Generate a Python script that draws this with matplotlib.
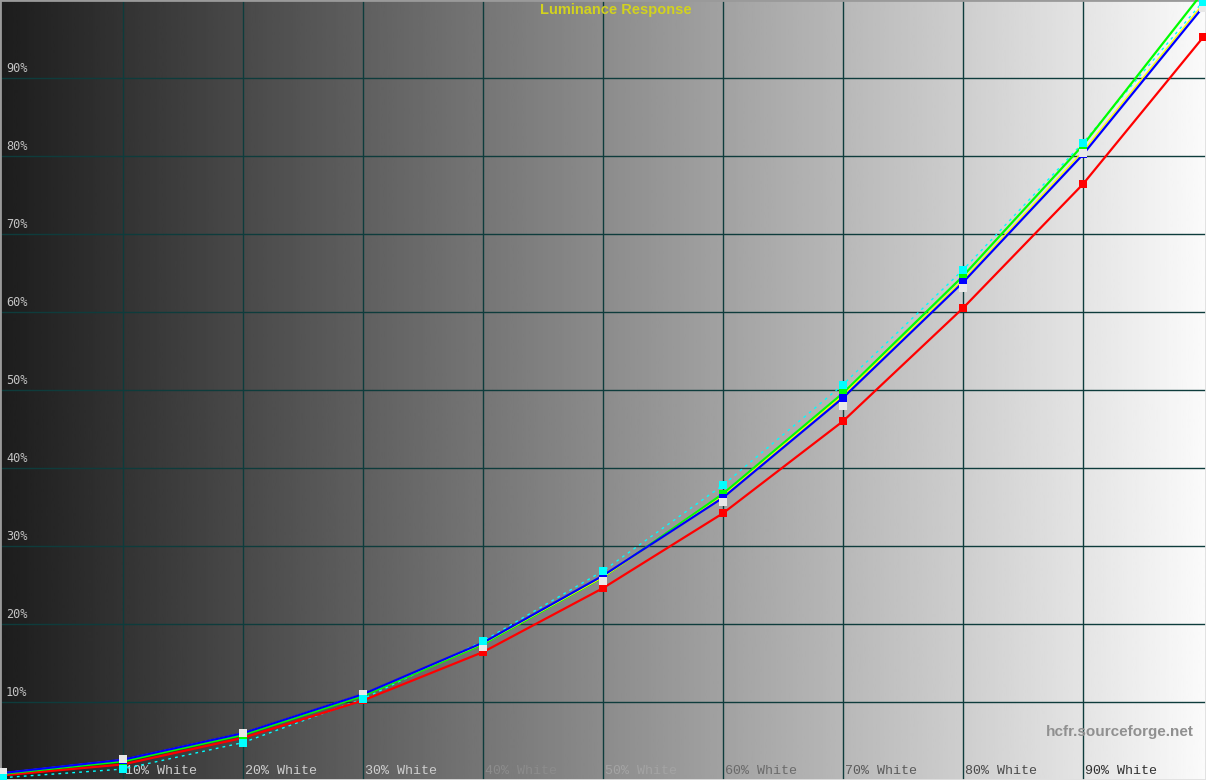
import numpy as np
import matplotlib
matplotlib.use("Agg")
import matplotlib.pyplot as plt

# Stimulus levels (% white) and measured luminance response (%)
levels = [0, 10, 20, 30, 40, 50, 60, 70, 80, 90, 100]
red = [0.6, 2.0, 5.4, 10.2, 16.4, 24.6, 34.2, 46.0, 60.5, 76.4, 95.2]
green = [0.8, 2.4, 5.8, 10.8, 17.4, 26.0, 36.7, 49.6, 64.6, 81.4, 101.0]
blue = [0.9, 2.6, 6.0, 11.0, 17.6, 26.2, 36.2, 49.0, 63.8, 80.2, 99.1]
lum_y = [0.9, 2.6, 6.0, 11.0, 17.5, 26.0, 36.4, 49.3, 64.1, 80.6, 99.5]
white_pts = [1.0, 2.7, 6.0, 11.0, 17.0, 25.5, 35.6, 48.0, 63.1, 80.4, 99.0]
reference = [0.3, 1.4, 4.8, 10.4, 17.8, 26.8, 37.8, 50.7, 65.4, 81.7, 99.8]

y_ticks = [10, 20, 30, 40, 50, 60, 70, 80, 90]
y_tick_labels = ["10%", "20%", "30%", "40%", "50%", "60%", "70%", "80%", "90%"]
x_tick_labels = ["10% White", "20% White", "30% White", "40% White", "50% White",
                 "60% White", "70% White", "80% White", "90% White"]
x_label_colors = ["#cfcfcf", "#cfcfcf", "#cfcfcf", "#8c8c8c", "#a4a4a4",
                  "#6a6a6a", "#5a5a5a", "#4a4a4a", "#303030"]

fig = plt.figure(figsize=(12.06, 7.8), dpi=100)
ax = fig.add_axes([0, 0, 1, 1])
ax.set_xlim(-0.25, 100.25)
ax.set_ylim(0, 100)

# grey ramp background
grad = np.linspace(0, 1, 512).reshape(1, -1)
ax.imshow(grad, extent=(-0.25, 100.25, 0, 100), aspect="auto", cmap="gray",
          vmin=-0.13, vmax=1.02, zorder=0)

grid_col = "#0e3c3c"
for v in y_ticks:
    ax.axhline(v, color=grid_col, lw=1.0, zorder=1)
    ax.axvline(v, color=grid_col, lw=1.0, zorder=1)

for v, lab in zip(y_ticks, y_tick_labels):
    ax.text(0.25, v + 0.35, lab, color="#c4c4c4", fontsize=8.6,
            family="DejaVu Sans Mono", ha="left", va="bottom", zorder=2)
for v, lab, c in zip(y_ticks, x_tick_labels, x_label_colors):
    ax.text(v + 0.15, 1.15, lab, color=c, fontsize=9.6,
            family="Liberation Mono", ha="left", va="center", zorder=2)

ax.text(99.2, 6.15, "hcfr.sourceforge.net", color="#909090", fontsize=11,
        family="Liberation Sans", weight="bold", ha="right", va="center", zorder=2)
ax.text(51.1, 98.7, "Luminance Response", color="#d2d21e", fontsize=10.5,
        family="Liberation Sans", weight="bold", ha="center", va="center", zorder=2)

# curves
ax.plot(levels, reference, color="#00ffff", lw=1, ls=(0, (2, 3)), zorder=3)
ax.plot(levels, red, color="#ff0000", lw=1.6, zorder=4)
ax.plot(levels, green, color="#00ff00", lw=1.6, zorder=4)
ax.plot(levels, lum_y, color="#ffff00", lw=1.0, zorder=5)
ax.plot(levels, blue, color="#0000ff", lw=1.6, zorder=6)

ms = 6
ax.plot(levels, red, ls="none", marker="s", ms=ms, mew=0, color="#ff0000", zorder=7)
ax.plot(levels, green, ls="none", marker="s", ms=ms, mew=0, color="#00ff00", zorder=7)
ax.plot(levels, blue, ls="none", marker="s", ms=ms, mew=0, color="#0000ff", zorder=7)
ax.plot(levels, white_pts, ls="none", marker="s", ms=ms, mew=0, color="#e8e8e8", zorder=8)
ax.plot(levels, reference, ls="none", marker="s", ms=ms, mew=0, color="#00ffff", zorder=9)

ax.set_xticks([])
ax.set_yticks([])
for s in ["left", "top"]:
    ax.spines[s].set_color("#9a9a9a")
    ax.spines[s].set_linewidth(2)
for s in ["right", "bottom"]:
    ax.spines[s].set_color("#e0e0e0")
    ax.spines[s].set_linewidth(2)

fig.savefig("out.png", dpi=100)
